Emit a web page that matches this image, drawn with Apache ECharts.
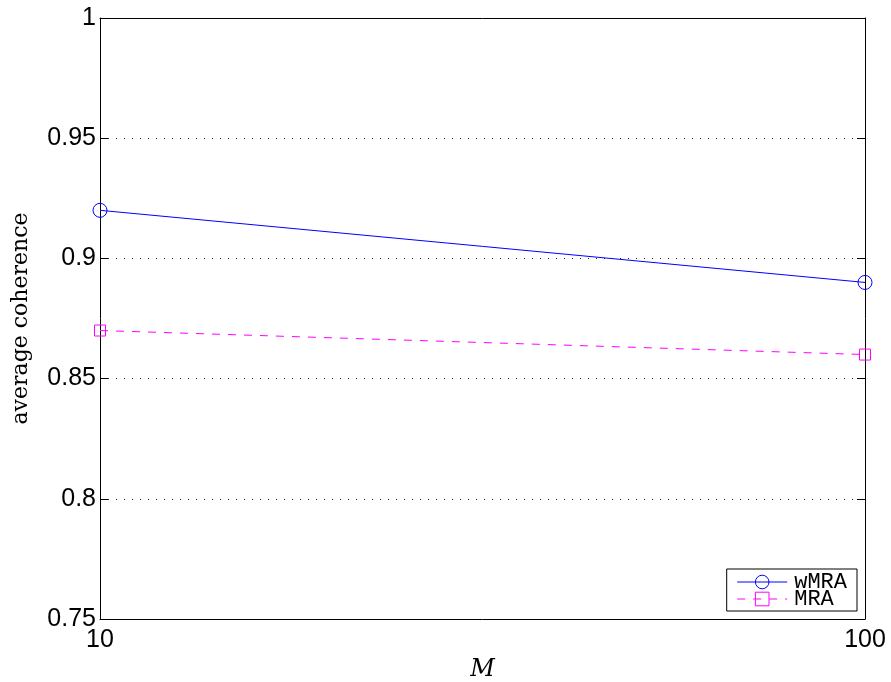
<!DOCTYPE html>
<html>
<head>
<meta charset="utf-8">
<script src="https://cdn.jsdelivr.net/npm/echarts@6/dist/echarts.min.js"></script>
<style>
  html, body { margin: 0; padding: 0; background: #fff; }
  #chart { width: 891px; height: 682px; }
</style>
</head>
<body>
<div id="chart"></div>
<script>
// Values of M (log axis) and the average coherence of each method
const mValues = [10, 100];
const wmraValues = [0.92, 0.89];
const mraValues = [0.87, 0.86];
const yTicks = [0.75, 0.8, 0.85, 0.9, 0.95, 1];

const chart = echarts.init(document.getElementById('chart'), null, { renderer: 'canvas' });

const pairs = (xs, ys) => xs.map((x, i) => [x, ys[i]]);

const tickFont = { fontFamily: 'Liberation Sans, Arial, sans-serif', fontSize: 25, color: '#000' };

const yAxisBase = {
  type: 'value',
  min: yTicks[0],
  max: yTicks[yTicks.length - 1],
  interval: 0.05,
  axisLine: { show: true, lineStyle: { color: '#000', width: 1 } },
  axisTick: { show: true, inside: true, length: 8, lineStyle: { color: '#000', width: 1 } },
  splitLine: { show: false }
};

chart.setOption({
  animation: false,
  backgroundColor: '#fff',
  grid: { left: 100, right: 26, top: 18, bottom: 63, containLabel: false, outerBoundsMode: 'none' },
  xAxis: [{
    type: 'log',
    logBase: 10,
    min: mValues[0],
    max: mValues[mValues.length - 1],
    name: 'M',
    nameLocation: 'middle',
    nameGap: 32,
    nameTextStyle: { fontFamily: 'DejaVu Serif, serif', fontStyle: 'italic', fontSize: 24, color: '#000' },
    axisLine: { show: true, lineStyle: { color: '#000', width: 1 } },
    axisTick: { show: true, inside: true, length: 8, lineStyle: { color: '#000' } },
    axisLabel: Object.assign({ margin: 9, showMinLabel: true, showMaxLabel: true }, tickFont),
    splitLine: { show: false }
  }, {
    type: 'log',
    logBase: 10,
    min: mValues[0],
    max: mValues[mValues.length - 1],
    position: 'top',
    axisLine: { show: true, lineStyle: { color: '#000', width: 1 } },
    axisTick: { show: false },
    axisLabel: { show: false },
    splitLine: { show: false }
  }],
  yAxis: [Object.assign({}, yAxisBase, {
    position: 'left',
    name: 'average coherence',
    nameLocation: 'middle',
    nameRotate: 90,
    nameGap: 68,
    nameTextStyle: { fontFamily: 'DejaVu Serif, serif', fontSize: 22, color: '#000' },
    axisLabel: Object.assign({ margin: 4 }, tickFont),
    splitLine: { show: true, lineStyle: { color: '#222', width: 1, type: [1, 7] } }
  }), Object.assign({}, yAxisBase, {
    position: 'right',
    axisLabel: { show: false }
  })],
  legend: {
    orient: 'vertical',
    right: 34,
    bottom: 71,
    backgroundColor: '#fff',
    borderColor: '#000',
    borderWidth: 1,
    borderRadius: 0,
    padding: [2, 10, 1, 10],
    itemWidth: 50,
    itemHeight: 17,
    itemGap: -5,
    lineStyle: { width: 1 },
    itemStyle: { borderWidth: 1 },
    textStyle: { fontFamily: 'Liberation Mono, Courier New, monospace', fontSize: 22, color: '#000', padding: [0, 3, 0, 2] },
    data: ['wMRA', 'MRA']
  },
  series: [{
    name: 'wMRA',
    type: 'line',
    data: pairs(mValues, wmraValues),
    symbol: 'circle',
    symbolSize: 14,
    showAllSymbol: true,
    lineStyle: { color: '#0000ff', width: 1 },
    itemStyle: { color: 'rgba(0,0,0,0)', borderColor: '#0000ff', borderWidth: 1 },
    emphasis: { disabled: true }
  }, {
    name: 'MRA',
    type: 'line',
    data: pairs(mValues, mraValues),
    symbol: 'rect',
    symbolSize: 11,
    showAllSymbol: true,
    lineStyle: { color: '#ff00ff', width: 1, type: [8, 8] },
    itemStyle: { color: 'rgba(0,0,0,0)', borderColor: '#ff00ff', borderWidth: 1 },
    emphasis: { disabled: true }
  }]
});
</script>
</body>
</html>
